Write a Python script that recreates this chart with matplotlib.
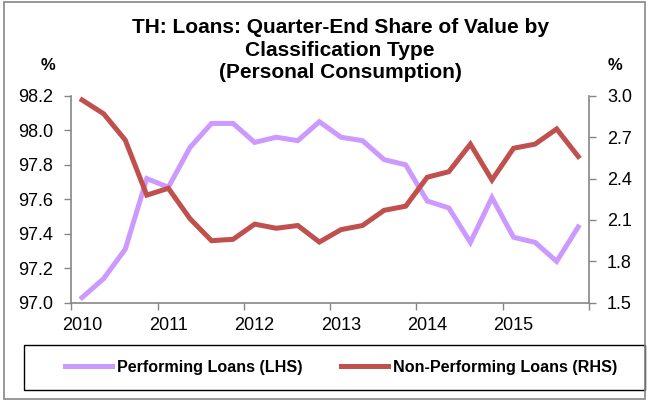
import numpy as np
import matplotlib.pyplot as plt
from matplotlib.patches import Rectangle

plt.rcParams['font.family'] = ['Liberation Sans', 'DejaVu Sans']

# quarterly data 2010Q1 - 2015Q4
years = ['2010', '2011', '2012', '2013', '2014', '2015']
performing = [97.03, 97.14, 97.31, 97.72, 97.67, 97.90, 98.04, 98.04,
              97.93, 97.96, 97.94, 98.05, 97.96, 97.94, 97.83, 97.80,
              97.59, 97.55, 97.35, 97.61, 97.38, 97.35, 97.24, 97.44]
non_performing = [2.97, 2.87, 2.68, 2.28, 2.33, 2.11, 1.95, 1.96,
                  2.07, 2.04, 2.06, 1.94, 2.03, 2.06, 2.17, 2.20,
                  2.41, 2.45, 2.65, 2.39, 2.62, 2.65, 2.76, 2.56]
title_lines = ['TH: Loans: Quarter-End Share of Value by',
               'Classification Type',
               '(Personal Consumption)']

purple = '#CC99FF'
red = '#C0504D'
grey = '#868686'

x = np.arange(len(performing))
H = 401.0

fig = plt.figure(figsize=(6.48, 4.01), dpi=100)
ax = fig.add_axes([0.110, 0.245, 0.799, 0.516])
ax2 = ax.twinx()

l1, = ax.plot(x, performing, color=purple, lw=3.6, solid_joinstyle='miter')
l2, = ax2.plot(x, non_performing, color=red, lw=3.6, solid_joinstyle='miter')

ax.set_xlim(-0.5, len(x) - 0.5)
ax.set_ylim(97.0, 98.2)
ax.set_yticks(np.arange(97.0, 98.21, 0.2))
ax.set_yticklabels(['%.1f' % v for v in np.arange(97.0, 98.21, 0.2)])
ax2.set_ylim(1.5, 3.0)
ax2.set_yticks(np.arange(1.5, 3.01, 0.3))
ax2.set_yticklabels(['%.1f' % v for v in np.arange(1.5, 3.01, 0.3)])

# tick marks between years, labels on first quarter
ax.set_xticks(np.arange(-0.5, len(x), 4))
ax.set_xticklabels([])
ax.set_xticks(np.arange(0, len(x), 4), minor=True)
ax.set_xticklabels(years, minor=True)
ax.tick_params(axis='x', which='minor', length=0, pad=10, labelsize=13)
ax.tick_params(axis='x', which='major', length=5, width=1, color=grey)

for a in (ax, ax2):
    a.spines['top'].set_visible(False)
    for s in ('left', 'right', 'bottom'):
        a.spines[s].set_color(grey)
        a.spines[s].set_linewidth(1.2)
    a.tick_params(axis='y', length=5, width=1, color=grey, labelsize=13, pad=8)
ax.spines['right'].set_visible(False)
ax2.spines['left'].set_visible(False)
ax2.spines['bottom'].set_visible(False)

# title, one line at a time
for line, base in zip(title_lines, [33.3, 55.5, 77.7]):
    fig.text(340 / 648, 1 - base / H, line, ha='center', va='baseline',
             fontsize=15, fontweight='bold')
fig.text(48 / 648, 1 - 65.5 / H, '%', ha='center', va='center', fontsize=12, fontweight='bold')
fig.text(615 / 648, 1 - 65.5 / H, '%', ha='center', va='center', fontsize=12, fontweight='bold')

# legend box
fig.patches.append(Rectangle((24 / 648, 1 - 390 / H), 621 / 648, 45 / H,
                             transform=fig.transFigure, fill=False,
                             edgecolor='black', lw=1))
fig.legend([l1, l2], ['Performing Loans (LHS)', 'Non-Performing Loans (RHS)'],
           loc='center', bbox_to_anchor=(341 / 648, 1 - 367.5 / H), ncol=2,
           frameon=False, handlelength=2.9, handletextpad=0.3, columnspacing=2.4,
           prop={'size': 11.6, 'weight': 'bold'})

# outer border
fig.patches.append(Rectangle((4 / 648, 2 / H), 641 / 648, 397 / H,
                             transform=fig.transFigure, fill=False,
                             edgecolor=grey, lw=1.2))

fig.savefig('out.png', dpi=100)
